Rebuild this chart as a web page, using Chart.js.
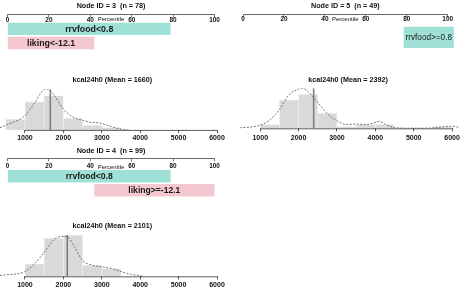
<!DOCTYPE html>
<html>
<head>
<meta charset="utf-8">
<script src="https://cdn.jsdelivr.net/npm/chart.js@4.4.1/dist/chart.umd.min.js"></script>
<style>
body { margin: 0; background: #fff; }
#wrap { position: relative; width: 462px; height: 291px; overflow: hidden; }
canvas { position: absolute; }
</style>
</head>
<body>
<div id="wrap">
  <canvas id="rule3" width="231" height="52" style="left:0px;top:0px"></canvas>
  <canvas id="hist3" width="231" height="74" style="left:0px;top:72px"></canvas>
  <canvas id="rule5" width="231" height="52" style="left:231px;top:0px"></canvas>
  <canvas id="hist5" width="231" height="74" style="left:231px;top:72px"></canvas>
  <canvas id="rule4" width="231" height="54" style="left:0px;top:145px"></canvas>
  <canvas id="hist4" width="231" height="73" style="left:0px;top:218px"></canvas>
</div>
<script>
// tick labels
var pctTicks = [0, 20, 40, 60, 80, 100];
var kcalTicks = [1000, 2000, 3000, 4000, 5000, 6000];
var binWidth = 500;

// node 3
var node3N = 78;
var node3Rules = ['rrvfood<0.8', 'liking<-12.1'];
var node3Ranges = [[0, 78.8], [0, 41.9]];
var node3Bins = [500, 1000, 1500, 2000, 2500, 3000];
var node3Counts = [9, 24, 29, 10, 4, 2];
var node3DensX = [350, 500, 1000, 1250, 1500, 1600, 1750, 2000, 2250, 2500, 2750, 2900, 3000, 3250, 3500, 3700];
var node3DensY = [2, 4, 12.3, 23, 34.2, 34.5, 30, 17.8, 11, 8.2, 6.3, 6.2, 5.5, 2.8, 0.8, 0];
var node3Mean = 1660;

// node 5
var node5N = 49;
var node5Rules = ['rrvfood>=0.8'];
var node5Ranges = [[78.5, 103]];
var node5Bins = [1000, 1500, 2000, 2500, 3000, 3500, 4000, 4500, 5000, 5500];
var node5Counts = [2, 15, 18, 8, 1, 2, 2, 0, 0, 1];
var node5DensX = [470, 1000, 1250, 1500, 1750, 2000, 2100, 2250, 2500, 2750, 3000, 3250, 3500, 3750, 4000, 4100, 4250, 4500, 5000, 5500, 5800, 6000, 6200];
var node5DensY = [0.25, 1.7, 4.5, 10, 17.8, 20.8, 21.2, 19.5, 13.7, 7.8, 4, 2, 2.3, 2, 3.2, 3.7, 2.3, 0.4, 0.1, 0.25, 1, 1.2, 0.5];
var node5Mean = 2392;

// node 4
var node4N = 99;
var node4Rules = ['rrvfood<0.8', 'liking>=-12.1'];
var node4Ranges = [[0, 78.8], [41.9, 100]];
var node4Bins = [1000, 1500, 2000, 2500, 3000];
var node4Counts = [11, 34, 37, 10, 7];
var node4DensX = [350, 500, 1000, 1250, 1500, 1750, 2000, 2100, 2250, 2500, 2750, 3000, 3250, 3500, 3750, 4000, 4100];
var node4DensY = [0.9, 1.4, 4.3, 11.4, 21.5, 32.9, 35.8, 35.5, 28.6, 14.3, 10, 8.6, 7.1, 4.3, 2, 0.6, 0];
var node4Mean = 2101;

var ruleColor = { rrvfood: '#9fe1d7', liking: '#f4c7d1' };
var FONT = 'Liberation Sans, Arial, sans-serif';
Chart.defaults.font.family = FONT;
Chart.defaults.color = '#111';

// text in the middle of each rule bar
var barText = {
    id: 'barText',
    afterDatasetsDraw: function (chart, args, opts) {
        var ctx = chart.ctx;
        var meta = chart.getDatasetMeta(0);
        ctx.save();
        ctx.fillStyle = '#1a1a1a';
        ctx.font = opts.font;
        ctx.textAlign = 'center';
        ctx.textBaseline = 'middle';
        meta.data.forEach(function (bar, i) {
            var p = bar.getProps(['x', 'y', 'base'], true);
            ctx.fillText(chart.data.labels[i], (p.x + p.base) / 2, p.y + 0.5);
        });
        ctx.restore();
    }
};

// R style axis line: only from first to last tick
var rAxis = {
    id: 'rAxis',
    afterDraw: function (chart) {
        var s = chart.scales.x;
        var ctx = chart.ctx;
        var x1 = s.getPixelForValue(s.ticks[0].value);
        var x2 = s.getPixelForValue(s.ticks[s.ticks.length - 1].value);
        ctx.save();
        ctx.strokeStyle = '#333';
        ctx.lineWidth = 0.8;
        ctx.beginPath();
        ctx.moveTo(x1, s.top + 0.4);
        ctx.lineTo(x2, s.top + 0.4);
        ctx.stroke();
        ctx.restore();
    }
};

function plain(v) { return String(v); }

function ruleChart(id, n, rules, ranges, o) {
    new Chart(document.getElementById(id), {
        type: 'bar',
        data: {
            labels: rules,
            datasets: [{
                data: ranges,
                backgroundColor: rules.map(function (r) { return ruleColor[r.match(/^[a-z]+/)[0]]; }),
                borderWidth: 0,
                borderSkipped: false,
                barPercentage: o.barPct,
                categoryPercentage: 1,
                clip: false
            }]
        },
        options: {
            indexAxis: 'y',
            responsive: false,
            animation: false,
            devicePixelRatio: 1,
            layout: { padding: o.pad },
            plugins: {
                legend: { display: false },
                tooltip: { enabled: false },
                title: {
                    display: true,
                    text: 'Node ID = ' + id.replace('rule', '') + '  (n = ' + n + ')',
                    font: { size: 7.2, weight: 'bold' },
                    color: '#111',
                    padding: { top: 1.7, bottom: o.titleBottom }
                },
                barText: { font: o.textFont }
            },
            scales: {
                x: {
                    type: 'linear',
                    min: 0,
                    max: 100,
                    position: { y: o.axisAt },
                    afterBuildTicks: function (s) { s.ticks = pctTicks.map(function (v) { return { value: v }; }); },
                    ticks: { font: { size: 6.4, weight: 'bold' }, color: '#111', padding: o.tickPad, maxRotation: 0, callback: plain },
                    grid: { drawOnChartArea: false, tickLength: 2.5, color: '#444', lineWidth: 0.7 },
                    border: { color: '#444', width: 0.8 },
                    title: {
                        display: true,
                        text: 'Percentile',
                        font: { size: 6 },
                        color: '#111',
                        padding: { top: o.pctTop, bottom: 0 }
                    }
                },
                y: { display: false }
            }
        },
        plugins: [barText]
    });
}

function histChart(id, bins, counts, densX, densY, mean, o) {
    var top = Math.max.apply(null, counts.concat(densY));
    new Chart(document.getElementById(id), {
        type: 'bar',
        data: {
            datasets: [
                {
                    type: 'bar',
                    data: bins.map(function (b, i) { return { x: b + binWidth / 2, y: counts[i] }; }),
                    backgroundColor: '#d9d9d9',
                    borderColor: '#ececec',
                    borderWidth: 0.8,
                    barPercentage: 1,
                    categoryPercentage: 1,
                    order: 3
                },
                {
                    type: 'line',
                    data: [{ x: mean, y: 0 }, { x: mean, y: top }],
                    borderColor: '#7a7a7a',
                    borderWidth: 1.5,
                    pointRadius: 0,
                    order: 2
                },
                {
                    type: 'line',
                    data: densX.map(function (x, i) { return { x: x, y: densY[i] }; }),
                    borderColor: '#555',
                    borderWidth: 0.8,
                    borderDash: [2, 1.5],
                    pointRadius: 0,
                    cubicInterpolationMode: 'monotone',
                    order: 1
                }
            ]
        },
        options: {
            responsive: false,
            animation: false,
            devicePixelRatio: 1,
            layout: { padding: o.pad },
            plugins: {
                legend: { display: false },
                tooltip: { enabled: false },
                title: {
                    display: true,
                    text: 'kcal24h0 (Mean = ' + mean + ')',
                    font: { size: 7.2, weight: 'bold' },
                    color: '#111',
                    padding: { top: 3.7, bottom: o.titleBottom }
                }
            },
            scales: {
                x: {
                    type: 'linear',
                    min: 350,
                    max: 6200,
                    offset: false,
                    afterBuildTicks: function (s) { s.ticks = kcalTicks.map(function (v) { return { value: v }; }); },
                    ticks: { font: { size: 7, weight: 'bold' }, color: '#111', padding: o.tickPad, maxRotation: 0, autoSkip: false, callback: plain },
                    grid: { drawOnChartArea: false, offset: false, tickLength: 3, color: '#333', lineWidth: 0.8 },
                    border: { display: false }
                },
                y: { display: false, min: 0, max: top }
            }
        },
        plugins: [rAxis]
    });
}

ruleChart('rule3', node3N, node3Rules, node3Ranges, {
    pad: { left: 7.5, right: 16.5, top: 0, bottom: 1.9 },
    titleBottom: 11.5, barPct: 0.88, axisAt: -1.01, tickPad: -1, pctTop: -7,
    textFont: 'bold 8.8px ' + FONT
});
histChart('hist3', node3Bins, node3Counts, node3DensX, node3DensY, node3Mean, {
    pad: { left: 0, right: 6.3, top: 0, bottom: 2 },
    titleBottom: 5, tickPad: 1.3
});

ruleChart('rule5', node5N, node5Rules, node5Ranges, {
    pad: { left: 12, right: 14.3, top: 0, bottom: 2.8 },
    titleBottom: 15.2, barPct: 0.9, axisAt: -0.98, tickPad: -1, pctTop: -7,
    textFont: '8.2px ' + FONT
});
histChart('hist5', node5Bins, node5Counts, node5DensX, node5DensY, node5Mean, {
    pad: { left: 4.3, right: 1.3, top: 0, bottom: 2 },
    titleBottom: 4, tickPad: 2.1
});

ruleChart('rule4', node4N, node4Rules, node4Ranges, {
    pad: { left: 7.5, right: 16.5, top: 0, bottom: 1.7 },
    titleBottom: 14, barPct: 0.9, axisAt: -1.24, tickPad: 0.7, pctTop: -7,
    textFont: 'bold 8.6px ' + FONT
});
histChart('hist4', node4Bins, node4Counts, node4DensX, node4DensY, node4Mean, {
    pad: { left: 0, right: 6.3, top: 0, bottom: 0 },
    titleBottom: 4.7, tickPad: 1.6
});
</script>
</body>
</html>
